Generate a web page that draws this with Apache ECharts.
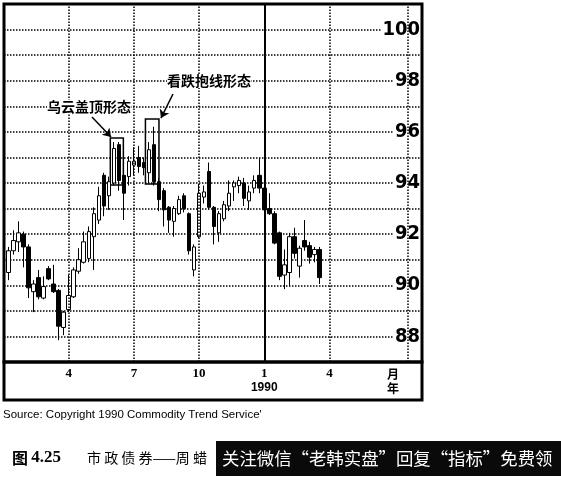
<!DOCTYPE html>
<html><head><meta charset="utf-8">
<script src="https://cdn.jsdelivr.net/npm/echarts@6/dist/echarts.min.js"></script>
<style>html,body{margin:0;padding:0;background:#fff}#c{width:561px;height:488px}</style>
</head><body><div id="c"></div>
<script>
// Weekly municipal bond futures, Jan 1989 - Mar 1990 (week numbers from start of 1989)
const opens  = [90.5,91.35,91.7,92.0,91.5,89.75,90.3,89.5,90.65,90.05,89.8,88.35,89.05,89.55,90.55,90.9,91.05,91.9,92.55,94.3,93.5,94.0,95.5,94.3,94.25,94.7,95.0,94.8,94.4,95.5,94.05,93.7,93.05,92.5,92.8,93.5,92.8,90.6,91.9,93.45,94.45,93.05,92.05,92.6,93.1,93.85,93.9,94.0,93.3,93.8,94.3,93.8,93.0,92.8,92.05,90.4,90.5,91.9,90.75,91.75,91.55,91.2,91.4];
const closes = [91.35,91.75,92.05,91.5,89.9,90.05,89.55,89.95,90.25,89.75,88.4,88.95,89.6,90.6,91.0,91.7,92.1,92.8,93.5,93.1,94.05,95.35,94.1,93.6,94.85,94.85,94.65,94.6,95.3,94.05,93.35,92.95,92.55,93.0,93.35,93.0,91.35,91.5,93.6,93.65,93.05,92.3,92.8,93.15,93.6,94.0,94.1,93.4,93.65,94.1,93.8,92.95,92.8,91.65,90.35,90.8,91.9,91.25,91.45,91.5,91.1,91.4,90.3];
const lows   = [90.2,91.2,91.3,90.7,89.5,88.95,89.45,89.45,90.2,89.7,87.85,88.05,88.95,89.5,90.45,90.85,90.9,90.6,92.4,92.7,92.95,93.9,93.7,92.55,93.9,94.3,94.4,94.3,94.0,93.9,92.9,92.3,92.05,91.9,92.75,92.85,91.2,90.35,91.85,93.2,92.95,91.6,91.7,92.5,92.9,93.3,93.6,93.1,92.95,93.6,93.6,92.8,92.75,91.6,90.2,89.85,89.95,91.05,90.3,91.35,90.85,90.9,90.05];
const highs  = [91.5,92.15,92.5,92.1,91.6,90.2,90.6,90.35,90.75,90.8,89.85,89.0,90.4,90.7,91.45,92.1,92.3,93.05,93.85,94.4,94.25,95.6,95.6,94.6,95.05,95.4,95.45,95.0,95.6,96.2,94.2,93.8,93.1,93.1,93.5,93.6,92.85,91.6,93.95,93.9,94.8,93.1,92.9,93.3,94.1,94.1,94.25,94.2,93.9,94.3,95.0,94.0,93.6,92.9,92.1,91.4,92.05,92.25,91.55,92.55,91.7,91.5,91.5];
const weeks = opens.map((_, i) => i + 1);

const yTickLabels = [88, 90, 92, 94, 96, 98, 100];
const xTickWeeks  = [13, 26, 39, 52, 65, 77.67];
const xTickLabels = ['4', '7', '10', '1\n1990', '4', '月\n年'];
const quarterWeeks = [13, 26, 39, 52, 65, 80.66];
const yearStartWeek = 52;

const candles = weeks.map((w, i) => [w, opens[i], closes[i], lows[i], highs[i]]);

const chart = echarts.init(document.getElementById('c'), null, {renderer: 'canvas'});
const numFont = '"Liberation Sans Narrow", "DejaVu Sans Condensed", "Liberation Sans", sans-serif';
const cjk = '"Noto Sans CJK SC", sans-serif';

chart.setOption({
  animation: false,
  backgroundColor: '#fff',
  grid: {left: 4, top: 4, width: 418, height: 358, show: true, borderColor: '#000', borderWidth: 3, backgroundColor: '#fff'},
  xAxis: {
    type: 'value', min: 0.1, max: 83.45,
    axisLine: {show: false}, axisTick: {show: false}, splitLine: {show: false},
    axisLabel: {
      customValues: xTickWeeks, margin: 5, color: '#000',
      formatter: function (v) {
        let k = 0, best = 1e9;
        xTickWeeks.forEach((t, j) => { if (Math.abs(t - v) < best) { best = Math.abs(t - v); k = j; } });
        const s = xTickLabels[k];
        if (s === '月\n年') return '{c|月}\n{c|年}';
        const parts = s.split('\n');
        return parts.length > 1 ? '{n|' + parts[0] + '}\n{s|' + parts[1] + '}' : '{n|' + s + '}';
      },
      rich: {
        n: {fontFamily: '"Liberation Serif", serif', fontWeight: 'bold', fontSize: 13, lineHeight: 14, color: '#000'},
        s: {fontFamily: '"Liberation Sans", sans-serif', fontWeight: 'bold', fontSize: 12, lineHeight: 14, color: '#000'},
        c: {fontFamily: cjk, fontWeight: 'bold', fontSize: 12, lineHeight: 14, color: '#000'}
      }
    }
  },
  yAxis: {
    type: 'value', position: 'right', min: 87, max: 101, interval: 1, z: 1.5,
    axisLine: {show: false}, axisTick: {show: false},
    splitLine: {show: true, lineStyle: {color: '#000', width: 1.5, type: [1.5, 1.5]}},
    axisLabel: {
      inside: true, margin: 2, customValues: yTickLabels,
      fontFamily: numFont, fontWeight: 'bold', fontSize: 20, color: '#000',
      backgroundColor: '#fff', padding: [0, 0, 0, 1]
    }
  },
  graphic: [
    {type: 'rect', z: 100, shape: {x: 4, y: 362, width: 418, height: 38}, style: {fill: 'none', stroke: '#000', lineWidth: 3}},
    {type: 'text', z: 100, x: 47, y: 107, style: {text: '乌云盖顶形态', font: 'bold 14px ' + cjk, fill: '#000', verticalAlign: 'middle', backgroundColor: '#fff'}},
    {type: 'text', z: 100, x: 167, y: 81, style: {text: '看跌抱线形态', font: 'bold 14px ' + cjk, fill: '#000', verticalAlign: 'middle', backgroundColor: '#fff'}},
    {type: 'text', z: 100, x: 3, y: 415, style: {text: "Source: Copyright 1990 Commodity Trend Service'", font: '11.5px "Liberation Sans", sans-serif', fill: '#000', verticalAlign: 'middle'}},
    {type: 'text', z: 100, x: 12, y: 458, style: {text: '{a|图} {b|4.25}', verticalAlign: 'middle', rich: {a: {fontFamily: cjk, fontWeight: 'bold', fontSize: 16, fill: '#000'}, b: {fontFamily: '"Liberation Serif", serif', fontWeight: 'bold', fontSize: 17, fill: '#000'}}}},
    {type: 'text', z: 100, x: 87, y: 458, style: {text: '市 政 债 券——周 蜡', font: '14px ' + cjk, fill: '#000', verticalAlign: 'middle'}},
    {type: 'rect', z: 101, shape: {x: 216, y: 441, width: 345, height: 35}, style: {fill: '#0a0a0a'}},
    {type: 'text', z: 102, x: 222, y: 458, style: {text: '关注微信“老韩实盘”回复“指标”免费领', font: '17.4px ' + cjk, fill: '#fff', verticalAlign: 'middle'}}
  ],
  series: [
    {
      type: 'line', data: [], z: 1, silent: true,
      markLine: {
        symbol: 'none', silent: true, label: {show: false}, animation: false,
        data: quarterWeeks.map(w => ({xAxis: w, lineStyle: {color: '#000', width: w === yearStartWeek ? 2 : 1.5, type: w === yearStartWeek ? 'solid' : [1.5, 1.5]}}))
      }
    },
    {
      type: 'candlestick', z: 2, barWidth: 4,
      data: candles,
      encode: {x: 0, y: [1, 2, 3, 4]},
      itemStyle: {color: '#fff', color0: '#000', borderColor: '#000', borderColor0: '#000', borderWidth: 1},
      markArea: {
        silent: true,
        itemStyle: {color: 'rgba(0,0,0,0)', borderColor: '#000', borderWidth: 1.5},
        data: [
          [{coord: [21.3, 95.76]}, {coord: [23.9, 93.92]}],
          [{coord: [28.3, 96.5]}, {coord: [31.0, 93.96]}]
        ]
      },
      markLine: {
        silent: true, symbol: ['none', 'arrow'], symbolSize: 8, label: {show: false},
        lineStyle: {color: '#000', width: 1.5, type: 'solid'},
        data: [
          [{coord: [17.65, 96.58]}, {coord: [21.44, 95.8]}],
          [{coord: [33.8, 97.48]}, {coord: [31.4, 96.54]}]
        ]
      }
    }
  ]
});
</script></body></html>
